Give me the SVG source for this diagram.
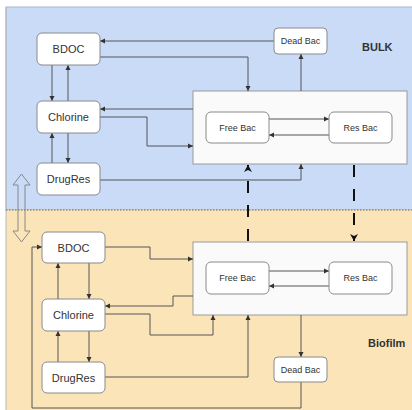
<svg xmlns="http://www.w3.org/2000/svg" width="412" height="410" viewBox="0 0 412 410">
<style>
.node rect{fill:#ffffff;stroke:#8a8a8a;stroke-width:1}
.box{fill:#fafafa;stroke:#9a9a9a;stroke-width:1}
.t{font-family:"Liberation Sans",Arial,sans-serif;fill:#333;text-anchor:middle;dominant-baseline:central}
.big{font-size:11px}
.small{font-size:9px}
.lbl{font-family:"Liberation Sans",Arial,sans-serif;font-weight:bold;font-size:11px;fill:#333}
.c path{fill:none;stroke:#555;stroke-width:1;marker-end:url(#ah)}
.c .dash{stroke:#111;stroke-width:2;stroke-dasharray:12 12;marker-end:url(#ahb)}
</style>
<defs>
<marker id="ah" markerWidth="6" markerHeight="6" refX="5" refY="3" orient="auto" markerUnits="userSpaceOnUse"><path d="M0,0.5 L5,3 L0,5.5 Z" fill="#333"/></marker>
<marker id="ahb" markerWidth="9" markerHeight="9" refX="7" refY="4" orient="auto" markerUnits="userSpaceOnUse"><path d="M0,0 L7,4 L0,8 L2,4 Z" fill="#111"/></marker>
</defs>
<rect x="0" y="0" width="412" height="410" fill="#ffffff"/>
<rect x="6" y="7" width="410" height="203" fill="#c9dbf7" stroke="#a9b7cc" stroke-width="1"/>
<rect x="6" y="210" width="410" height="202" fill="#fbe5b8"/>
<line x1="6" y1="7" x2="6" y2="410" stroke="#b8b8b8" stroke-width="1"/>
<line x1="6" y1="210" x2="412" y2="210" stroke="#666" stroke-width="1" stroke-dasharray="1.5 1.5"/>
<path d="M21.5,174 L30,185 L25,185 L25,231 L30,231 L21.5,242 L13,231 L18,231 L18,185 L13,185 Z" fill="none" stroke="#888" stroke-width="1"/>
<text class="lbl" x="362" y="51">BULK</text>
<text class="lbl" x="368" y="347">Biofilm</text>
<rect class="box" x="193" y="91" width="214" height="73"/>
<rect class="box" x="193" y="242" width="214" height="73"/>
<g class="c">
<path d="M274,41 H100"/>
<path d="M100,57 H248 V91"/>
<path d="M301,91 V54"/>
<path d="M193,109 H100"/>
<path d="M100,117 H147 V146 H193"/>
<path d="M100,180 H301 V164"/>
<path d="M52,65 V101"/>
<path d="M68,101 V65"/>
<path d="M68,133 V163"/>
<path d="M52,163 V133"/>
<path d="M269,119 H329"/>
<path d="M329,135 H269"/>
<path class="dash" d="M354,165 V241"/>
<path class="dash" d="M248,241 V165"/>
<path d="M105,247 H150 V259 H193"/>
<path d="M193,296 H173 V306 H105"/>
<path d="M105,314 H150 V335 H213 V315"/>
<path d="M105,377 H248 V315"/>
<path d="M301,315 V357"/>
<path d="M301,382 V408 H32 V247 H42"/>
<path d="M89,263 V299"/>
<path d="M58,299 V263"/>
<path d="M89,331 V362"/>
<path d="M58,362 V331"/>
<path d="M269,271 H329"/>
<path d="M329,286 H269"/>
</g>
<g id="bulk-bdoc" class="node"><rect x="37" y="33" width="63" height="32" rx="5"/><text class="t big" x="68.5" y="49">BDOC</text></g>
<g id="bulk-chlorine" class="node"><rect x="37" y="101" width="63" height="32" rx="5"/><text class="t big" x="68.5" y="117">Chlorine</text></g>
<g id="bulk-drugres" class="node"><rect x="37" y="163" width="63" height="32" rx="5"/><text class="t big" x="68.5" y="179">DrugRes</text></g>
<g id="bulk-deadbac" class="node"><rect x="274" y="28" width="53" height="26" rx="4"/><text class="t small" x="300.5" y="41">Dead Bac</text></g>
<g id="bulk-freebac" class="node"><rect x="206" y="112" width="63" height="31" rx="5"/><text class="t small" x="237.5" y="127.5">Free Bac</text></g>
<g id="bulk-resbac" class="node"><rect x="329" y="112" width="63" height="31" rx="5"/><text class="t small" x="360.5" y="127.5">Res Bac</text></g>
<g id="bio-bdoc" class="node"><rect x="42" y="232" width="63" height="31" rx="5"/><text class="t big" x="73.5" y="247.5">BDOC</text></g>
<g id="bio-chlorine" class="node"><rect x="42" y="299" width="63" height="32" rx="5"/><text class="t big" x="73.5" y="315">Chlorine</text></g>
<g id="bio-drugres" class="node"><rect x="42" y="362" width="63" height="31" rx="5"/><text class="t big" x="73.5" y="377.5">DrugRes</text></g>
<g id="bio-deadbac" class="node"><rect x="274" y="357" width="53" height="25" rx="4"/><text class="t small" x="300.5" y="369.5">Dead Bac</text></g>
<g id="bio-freebac" class="node"><rect x="206" y="262" width="63" height="32" rx="5"/><text class="t small" x="237.5" y="278">Free Bac</text></g>
<g id="bio-resbac" class="node"><rect x="329" y="262" width="63" height="32" rx="5"/><text class="t small" x="360.5" y="278">Res Bac</text></g>
</svg>
